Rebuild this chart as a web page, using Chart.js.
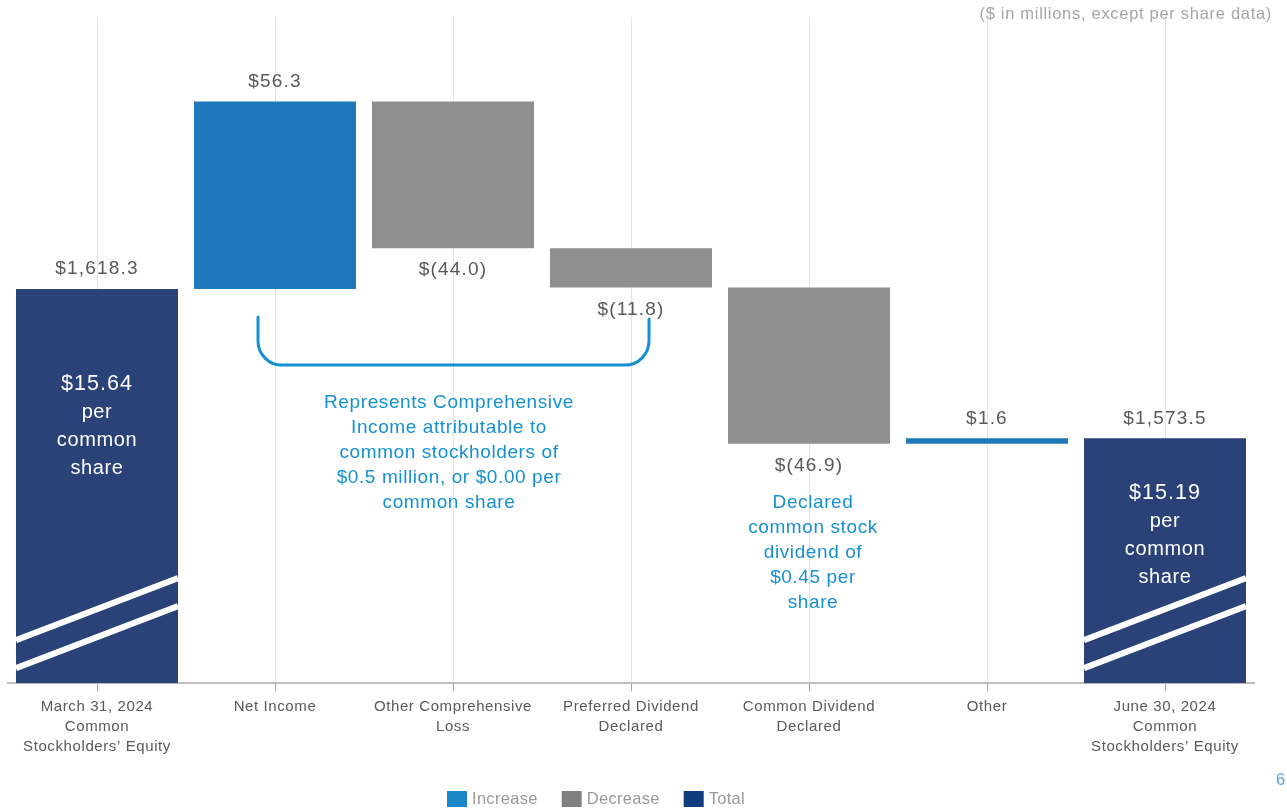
<!DOCTYPE html>
<html>
<head>
<meta charset="utf-8">
<script src="https://cdn.jsdelivr.net/npm/chart.js@4.4.1/dist/chart.umd.min.js"></script>
<style>
  html, body { margin: 0; padding: 0; background: #fff; }
  #wrap { position: relative; width: 1287px; height: 811px; }
</style>
</head>
<body>
<div id="wrap"><canvas id="bridge"></canvas></div>
<script>
// Equity bridge, $ in millions
const categories = [
  ['March 31, 2024', 'Common', 'Stockholders\u2019 Equity'],
  ['Net Income'],
  ['Other Comprehensive', 'Loss'],
  ['Preferred Dividend', 'Declared'],
  ['Common Dividend', 'Declared'],
  ['Other'],
  ['June 30, 2024', 'Common', 'Stockholders\u2019 Equity']
];
const amounts = [1618.3, 56.3, -44.0, -11.8, -46.9, 1.6, 1573.5];
const kinds = ['total', 'increase', 'decrease', 'decrease', 'decrease', 'increase', 'total'];
const valueLabels = ['$1,618.3', '$56.3', '$(44.0)', '$(11.8)', '$(46.9)', '$1.6', '$1,573.5'];
const perShareLabels = ['$15.64', null, null, null, null, null, '$15.19'];
const legendNames = ['Increase', 'Decrease', 'Total'];
const axisMin = 1500;
const axisMax = 1700;

const barColors = { increase: '#1f78ba', decrease: '#8f8f8f', total: '#2b4279' };
const legendColors = { increase: '#1a87c8', decrease: '#808080', total: '#0e3c7c' };
const noteBlue = '#1591d1';
const FONT = '"Liberation Sans", Arial, sans-serif';

// floating [low, high] ranges for the waterfall
const ranges = [];
let running = 0;
amounts.forEach(function(v, i) {
  if (kinds[i] === 'total') {
    ranges.push([axisMin, v]);
    running = v;
  } else {
    ranges.push([running, running + v]);
    running += v;
  }
});

const bridgeExtras = {
  id: 'bridgeExtras',
  beforeDraw(chart) {
    // a little tracking for the axis labels (canvas state resets on resize)
    chart.ctx.letterSpacing = '0.6px';
  },
  afterDatasetsDraw(chart) {
    const ctx = chart.ctx;
    const meta = chart.getDatasetMeta(0);
    const xs = chart.scales.x;
    const ys = chart.scales.y;
    ctx.save();

    // value labels
    ctx.font = '19px ' + FONT;
    ctx.letterSpacing = '1.2px';
    ctx.fillStyle = '#595959';
    ctx.textAlign = 'center';
    ctx.textBaseline = 'middle';
    meta.data.forEach(function(bar, i) {
      const top = Math.min(bar.y, bar.base);
      const bottom = Math.max(bar.y, bar.base);
      const y = kinds[i] === 'decrease' ? bottom + 22 : top - 20;
      ctx.fillText(valueLabels[i], bar.x, y);
    });

    // broken-axis slashes and per share text on the total bars
    const shareOffset = { 0: 95, 6: 55 };
    meta.data.forEach(function(bar, i) {
      if (kinds[i] !== 'total') return;
      const half = bar.width / 2;
      const l = bar.x - half, r = bar.x + half;
      const b = Math.max(bar.y, bar.base);
      ctx.strokeStyle = '#ffffff';
      ctx.lineWidth = 6;
      [[43, 105], [15, 77]].forEach(function(o) {
        ctx.beginPath();
        ctx.moveTo(l, b - o[0]);
        ctx.lineTo(r, b - o[1]);
        ctx.stroke();
      });
      ctx.fillStyle = '#ffffff';
      const lines = [perShareLabels[i], 'per', 'common', 'share'];
      const t = Math.min(bar.y, bar.base) + shareOffset[i];
      lines.forEach(function(s, k) {
        ctx.font = (k === 0 ? '21.5px ' : '20px ') + FONT;
        ctx.letterSpacing = k === 0 ? '1px' : '0.6px';
        ctx.fillText(s, bar.x, t + k * 28);
      });
    });

    // bracket under net income .. preferred dividend
    const x1 = xs.getPixelForValue(1) - 17;
    const x2 = xs.getPixelForValue(3) + 18;
    const yTop = ys.getPixelForValue(ranges[1][0]) + 28;
    const yLow = yTop + 48;
    ctx.strokeStyle = noteBlue;
    ctx.lineWidth = 3;
    ctx.lineCap = 'round';
    ctx.beginPath();
    ctx.moveTo(x1, yTop);
    ctx.arcTo(x1, yLow, x1 + 24, yLow, 24);
    ctx.lineTo(x2 - 24, yLow);
    ctx.arcTo(x2, yLow, x2, yLow - 24, 24);
    ctx.lineTo(x2, yTop + 2);
    ctx.stroke();

    ctx.fillStyle = noteBlue;
    ctx.font = '19px ' + FONT;
    ctx.letterSpacing = '0.6px';
    const noteA = ['Represents Comprehensive', 'Income attributable to', 'common stockholders of',
      '$0.5 million, or $0.00 per', 'common share'];
    const cx = (xs.getPixelForValue(1) + xs.getPixelForValue(3)) / 2 - 4;
    noteA.forEach(function(s, k) { ctx.fillText(s, cx, yLow + 38 + k * 25); });

    const noteB = ['Declared', 'common stock', 'dividend of', '$0.45 per', 'share'];
    const b4 = meta.data[4];
    const b4bottom = Math.max(b4.y, b4.base);
    noteB.forEach(function(s, k) { ctx.fillText(s, xs.getPixelForValue(4) + 4, b4bottom + 59 + k * 25); });

    // legend row
    ctx.font = '16.5px ' + FONT;
    ctx.letterSpacing = '0.3px';
    ctx.textAlign = 'left';
    let lx = 447;
    const ly = 799;
    ['increase', 'decrease', 'total'].forEach(function(k, i) {
      ctx.fillStyle = legendColors[k];
      ctx.fillRect(lx, ly - 8, 20, 16);
      ctx.fillStyle = '#999999';
      ctx.fillText(legendNames[i], lx + 25, ly);
      lx += 25 + ctx.measureText(legendNames[i]).width + 24;
    });

    // units note and page number
    ctx.font = '16.5px ' + FONT;
    ctx.letterSpacing = '0.7px';
    ctx.fillStyle = '#a6a6a6';
    ctx.textAlign = 'right';
    ctx.fillText('($ in millions, except per share data)', 1272, 14);
    ctx.fillStyle = '#5ba3d6';
    ctx.fillText('6', 1286, 780);
    ctx.restore();
  }
};

new Chart(document.getElementById('bridge'), {
  type: 'bar',
  data: {
    labels: categories,
    datasets: [{
      data: ranges,
      backgroundColor: kinds.map(function(k) { return barColors[k]; }),
      borderWidth: 0,
      borderSkipped: false,
      barPercentage: 0.91,
      categoryPercentage: 1.0
    }]
  },
  options: {
    responsive: true,
    maintainAspectRatio: false,
    animation: false,
    layout: { padding: { left: 8, right: 33, top: 17, bottom: 48 } },
    plugins: {
      tooltip: { enabled: false },
      legend: { display: false }
    },
    scales: {
      x: {
        grid: { offset: false, color: '#e4e4e4', lineWidth: 1, tickLength: 8, tickColor: '#a0a0a0' },
        border: { color: '#bdbdbd', width: 2 },
        ticks: {
          color: '#595959',
          padding: 6,
          maxRotation: 0,
          autoSkip: false,
          font: { family: FONT, size: 15, lineHeight: 1.33 }
        }
      },
      y: { display: false, min: axisMin, max: axisMax }
    }
  },
  plugins: [bridgeExtras]
});
</script>
</body>
</html>
